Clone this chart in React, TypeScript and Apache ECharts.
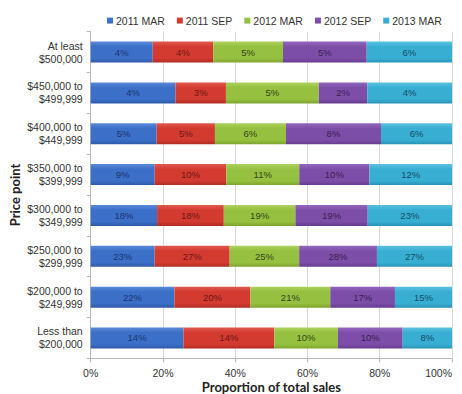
import React, { useEffect, useRef } from "react";
import * as echarts from "echarts";

// Price bands, top to bottom
const priceBands = [
  "At least\n$500,000",
  "$450,000 to\n$499,999",
  "$400,000 to\n$449,999",
  "$350,000 to\n$399,999",
  "$300,000 to\n$349,999",
  "$250,000 to\n$299,999",
  "$200,000 to\n$249,999",
  "Less than\n$200,000",
];

const periods = ["2011 MAR", "2011 SEP", "2012 MAR", "2012 SEP", "2013 MAR"];

// Share of sales (%) in each price band, per period (same band order as above)
const mar2011 = [4.0, 4.2, 5.2, 9.3, 17.8, 23, 22, 14.3];
const sep2011 = [3.9, 2.5, 4.6, 10.4, 17.9, 27, 20, 14];
const mar2012 = [4.5, 4.6, 5.6, 10.6, 19.2, 25, 21, 9.8];
const sep2012 = [5.4, 2.4, 7.5, 10.2, 19.4, 28, 17, 10];
const mar2013 = [5.5, 4.2, 5.6, 12.0, 22.6, 27, 15, 7.6];

const xTicks = [0, 20, 40, 60, 80, 100];

const seriesValues = [mar2011, sep2011, mar2012, sep2012, mar2013];
const barColors = ["#3b6fc8", "#d33a30", "#96c03f", "#7d4ea8", "#38aed3"];
const barColorsLight = ["#5a8ad8", "#e05a50", "#acd25e", "#9468bd", "#5cc2e0"];
const barColorsDark = ["#2f5aa8", "#b02c24", "#7ea42e", "#663c8e", "#2a93b6"];
const labelColors = ["#1d3670", "#6e1812", "#34461a", "#3a1f52", "#134d66"];

export default function App() {
  const ref = useRef<HTMLDivElement>(null);

  useEffect(() => {
    if (!ref.current) return;
    const chart = echarts.init(ref.current, null, { renderer: "svg" });

    const rowTotals = priceBands.map((_, i) =>
      seriesValues.reduce((s, arr) => s + arr[i], 0)
    );

    const series = periods.map((name, k) => ({
      name,
      type: "bar",
      stack: "total",
      barWidth: 21,
      itemStyle: {
        color: new echarts.graphic.LinearGradient(0, 0, 0, 1, [
          { offset: 0, color: barColorsLight[k] },
          { offset: 0.25, color: barColors[k] },
          { offset: 0.8, color: barColors[k] },
          { offset: 1, color: barColorsDark[k] },
        ]),
      },
      label: {
        show: true,
        position: "inside",
        color: labelColors[k],
        fontSize: 9.5,
        fontFamily: "Liberation Sans, Arial, sans-serif",
        formatter: (p: any) => Math.round(seriesValues[k][p.dataIndex]) + "%",
      },
      data: seriesValues[k].map((v, i) => (v / rowTotals[i]) * 100),
    }));

    chart.setOption({
      animation: false,
      backgroundColor: "#ffffff",
      color: barColors,
      textStyle: { fontFamily: "Liberation Sans, Arial, sans-serif" },
      legend: {
        top: 10,
        left: 102,
        itemWidth: 6,
        itemHeight: 6,
        itemGap: 12,
        icon: "rect",
        textStyle: { fontSize: 10.5, color: "#333", padding: [0, 0, 0, -2] },
        data: periods,
      },
      grid: {
        left: 90.7,
        right: 10,
        top: 31.6,
        bottom: 35.6,
        containLabel: false,
        outerBoundsMode: "none",
      },
      xAxis: {
        type: "value",
        min: 0,
        max: 100,
        interval: 20,
        name: "Proportion of total sales",
        nameLocation: "middle",
        nameGap: 22,
        nameMoveOverlap: false,
        nameTextStyle: {
          fontFamily: "Lato, sans-serif",
          fontWeight: "bold",
          fontSize: 13,
          color: "#222",
          verticalAlign: "top",
        },
        axisLine: { show: true, lineStyle: { color: "#b8b8b8" } },
        axisTick: { show: true, length: 4, lineStyle: { color: "#b8b8b8" } },
        axisLabel: {
          fontSize: 10.5,
          color: "#333",
          margin: 9,
          alignMaxLabel: "right",
          formatter: (v: number) => (xTicks.includes(v) ? v + "%" : ""),
        },
        splitLine: { show: true, lineStyle: { color: "#d9d9d9" } },
      },
      yAxis: {
        type: "category",
        inverse: true,
        data: priceBands,
        name: "Price point",
        nameLocation: "middle",
        nameGap: 69,
        nameMoveOverlap: false,
        nameRotate: 90,
        nameTextStyle: {
          fontFamily: "Lato, sans-serif",
          fontWeight: "bold",
          fontSize: 13,
          color: "#222",
        },
        axisLine: { show: true, lineStyle: { color: "#b8b8b8" } },
        axisTick: { show: true, length: 4, lineStyle: { color: "#b8b8b8" } },
        axisLabel: {
          fontSize: 10.5,
          color: "#333",
          lineHeight: 13,
          margin: 8,
          align: "right",
        },
      },
      series,
    });

    return () => chart.dispose();
  }, []);

  return (
    <div
      ref={ref}
      style={{ position: "fixed", left: 0, top: 0, width: 462, height: 394 }}
    />
  );
}
